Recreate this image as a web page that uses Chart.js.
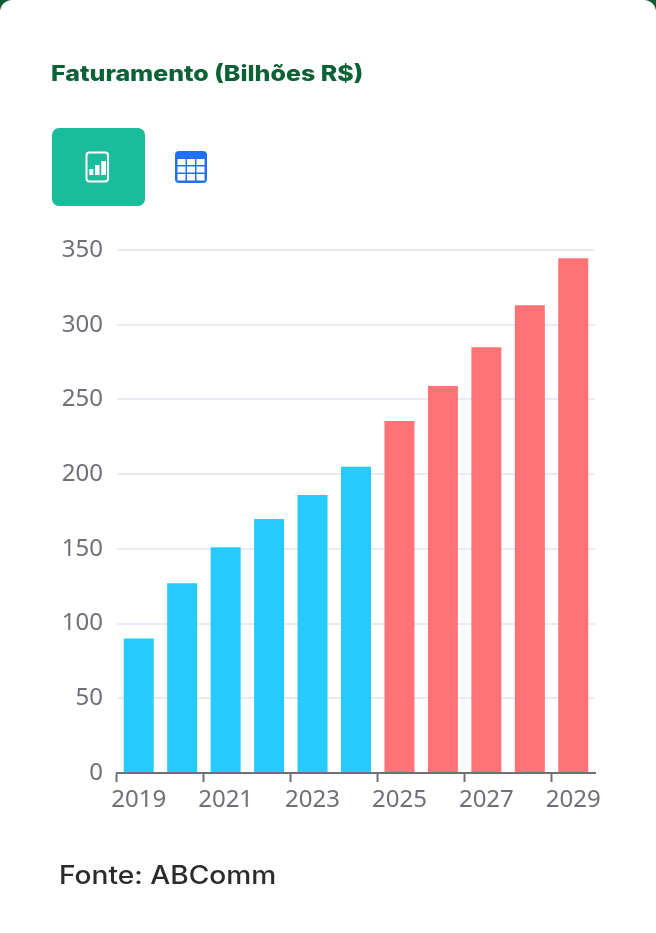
<!DOCTYPE html>
<html lang="pt">
<head>
<meta charset="utf-8">
<title>Faturamento (Bilhões R$)</title>
<script src="https://cdn.jsdelivr.net/npm/chart.js@4"></script>
<style>
html,body{margin:0;padding:0;background:#0b5a32;width:656px;height:933px;overflow:hidden}
#card{position:absolute;left:0;top:0;width:656px;height:933px;background:#fff;border-radius:12px 12px 0 0}
#title{position:absolute;left:51px;top:60px;font:800 22px Inter,sans-serif;color:#0b6236;white-space:nowrap;transform-origin:0 50%;transform:scaleX(1.135);filter:blur(.35px)}
#btn{position:absolute;left:52px;top:128px;width:93px;height:78px;border-radius:7px;background:#1abc9c}
#ico1{position:absolute;left:85px;top:151px}
#ico2{position:absolute;left:175px;top:151px}
#src{position:absolute;left:59px;top:860px;font:500 25px Inter,sans-serif;color:#2b2b2b;white-space:nowrap;transform-origin:0 50%;transform:scaleX(1.125);filter:blur(.35px)}
#wrap{position:absolute;left:0;top:0;width:656px;height:933px;filter:blur(.45px)}
</style>
</head>
<body>
<div id="card"></div>
<div id="title">Faturamento (Bilhões R$)</div>
<div id="btn"></div>
<svg id="ico1" width="25" height="32" viewBox="0 0 25 32"><rect x="1.5" y="1.5" width="21.5" height="29" rx="3" fill="none" stroke="#fff" stroke-width="2"/><rect x="4.3" y="18" width="4" height="6" fill="#fff"/><rect x="10" y="14" width="4.5" height="10" fill="#fff"/><rect x="16.3" y="10" width="4.7" height="14" fill="#fff"/></svg>
<svg id="ico2" width="32" height="32" viewBox="0 0 32 32"><rect x="0" y="0" width="32" height="32" rx="4" fill="#2070f5"/><g fill="#fff"><rect x="2.5" y="8" width="8" height="6"/><rect x="12" y="8" width="8" height="6"/><rect x="21.5" y="8" width="8" height="6"/><rect x="2.5" y="15.5" width="8" height="6"/><rect x="12" y="15.5" width="8" height="6"/><rect x="21.5" y="15.5" width="8" height="6"/><rect x="2.5" y="23" width="8" height="6.5"/><rect x="12" y="23" width="8" height="6.5"/><rect x="21.5" y="23" width="8" height="6.5"/></g></svg>
<div id="wrap"><canvas id="c" width="656" height="933"></canvas></div>
<div id="src">Fonte: ABComm</div>
<script>
const years = ["2019","2020","2021","2022","2023","2024","2025","2026","2027","2028","2029"];
const faturamento = [90,127,151,170,186,205,235.5,259,285,313,344.5];
const yTickStep = 50;
const yMax = 350;
const lastActualYear = "2024";
new Chart(document.getElementById('c'),{
  type:'bar',
  data:{labels:years,datasets:[{
    label:'Faturamento (Bilhões R$)',
    data:faturamento,
    backgroundColor:ctx=>years[ctx.dataIndex]<=lastActualYear?'#25cbfb':'#ff7275',
    barPercentage:.69,categoryPercentage:1,borderWidth:0
  }]},
  options:{
    responsive:false,animation:false,
    layout:{padding:{left:0,right:61,top:250,bottom:0}},
    plugins:{legend:{display:false},title:{display:false},tooltip:{enabled:false}},
    scales:{
      x:{
        afterFit:s=>{s.height=160},
        grid:{offset:true,drawOnChartArea:false,drawTicks:true,tickLength:9,tickWidth:2,
          tickColor:ctx=>ctx.index%2===0?'#6e7079':'rgba(0,0,0,0)'},
        border:{display:true,color:'#6e7079',width:2},
        ticks:{autoSkip:false,maxRotation:0,minRotation:0,padding:4,color:'#6e7079',
          font:{family:'"Noto Sans"',size:24},
          callback(v,i){return i%2===0?this.getLabelForValue(v):''}}
      },
      y:{
        min:0,max:yMax,
        afterFit:s=>{s.width=117},
        grid:{color:'#e8eaf6',lineWidth:2,drawTicks:false},
        border:{display:false},
        ticks:{stepSize:yTickStep,padding:14,color:'#6e7079',font:{family:'"Noto Sans"',size:24}}
      }
    }
  }
});
</script>
</body>
</html>
